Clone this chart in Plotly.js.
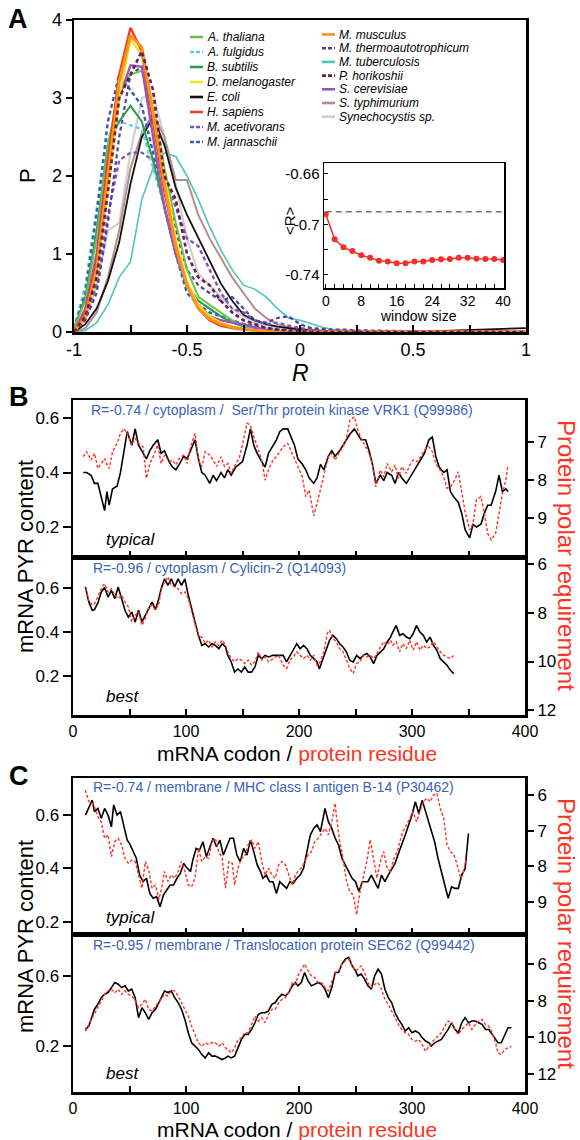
<!DOCTYPE html>
<html><head><meta charset="utf-8">
<script src="https://cdn.plot.ly/plotly-3.0.1.min.js"></script>
<style>html,body{margin:0;padding:0;background:#fff}</style>
</head><body><div id="chart" style="width:580px;height:1140px"></div>
<script>
// ---------------- DATA: panel A ----------------
const R_GRID = [-1,-0.95,-0.9,-0.85,-0.8,-0.75,-0.7,-0.65,-0.6,-0.55,-0.5,-0.45,-0.4,-0.35,-0.3,-0.25,-0.2,-0.15,-0.1,-0.05,0,0.05,0.1,0.15,0.2,0.25,0.3,0.5,1.0];
const P_ATHALIANA = [0.05,0.4,1.2,2.4,3.1,3.3,3.35,2.9,2.1,1.4,0.8,0.45,0.35,0.25,0.15,0.08,0.04,0.02,0.01,0,0,0,0,0,0,0,0,0,0];
const P_AFULGIDUS = [0.05,0.6,1.6,2.5,2.7,2.65,2.6,2.1,1.6,1.0,0.55,0.4,0.3,0.2,0.15,0.1,0.07,0.05,0.03,0.02,0.01,0,0,0,0,0,0,0,0];
const P_BSUBTILIS = [0.05,0.45,1.3,2.4,2.7,2.9,2.7,2.2,1.6,1.0,0.6,0.4,0.3,0.2,0.12,0.07,0.04,0.02,0.01,0,0,0,0,0,0,0,0,0,0];
const P_DMELANOGASTER = [0,0.2,0.7,1.8,3.0,3.75,3.55,2.9,2.0,1.2,0.65,0.35,0.2,0.12,0.07,0.04,0.02,0.01,0,0,0,0,0,0,0,0,0,0,0];
const P_ECOLI = [0,0.1,0.3,0.65,1.15,1.9,2.5,2.75,2.4,1.85,1.5,1.2,0.9,0.62,0.4,0.22,0.15,0.1,0.07,0.05,0.03,0.02,0.01,0,0,0,0,0,0.05];
const P_HSAPIENS = [0,0.25,0.9,2.2,3.3,3.9,3.6,2.7,1.8,1.1,0.6,0.3,0.15,0.08,0.05,0.03,0.02,0.01,0,0,0,0,0,0,0,0,0,0,0];
const P_MACETIVORANS = [0,0.2,0.6,1.5,2.2,2.3,2.3,2.2,2.0,1.6,1.2,1.1,0.8,0.5,0.3,0.25,0.15,0.1,0.12,0.08,0.05,0.03,0.02,0.01,0.01,0,0,0,0];
const P_MJANNASCHII = [0.05,0.5,1.5,2.7,3.3,3.1,2.9,2.3,1.6,1.0,0.5,0.35,0.25,0.2,0.15,0.1,0.08,0.05,0.03,0.02,0.01,0,0,0,0,0,0,0,0];
const P_MMUSCULUS = [0,0.2,0.8,2.0,3.2,3.8,3.65,2.8,1.9,1.1,0.6,0.3,0.17,0.1,0.06,0.04,0.02,0.01,0,0,0,0,0,0,0,0,0,0,0];
const P_MTHERMO = [0,0.15,0.5,1.4,2.5,3.3,3.4,2.7,1.9,1.3,0.8,0.6,0.5,0.4,0.45,0.3,0.15,0.12,0.18,0.2,0.1,0.05,0.04,0.03,0.03,0.02,0.02,0.01,0];
const P_MTUBERCULOSIS = [0,0.02,0.12,0.35,0.7,0.9,1.7,2.1,2.3,2.25,2.0,1.7,1.35,1.05,0.8,0.6,0.55,0.45,0.3,0.18,0.15,0.1,0.06,0.03,0.02,0.02,0.01,0,0];
const P_PHORIKOSHII = [0,0.2,0.7,1.8,3.0,3.3,3.6,3.1,2.0,1.7,1.0,0.7,0.6,0.4,0.25,0.15,0.1,0.05,0.03,0.02,0.01,0,0,0,0,0,0,0,0];
const P_SCEREVISIAE = [0,0.3,1.0,2.2,3.0,3.42,3.4,2.5,1.6,1.0,0.6,0.35,0.2,0.15,0.12,0.1,0.06,0.03,0.01,0,0,0,0,0,0,0,0,0,0];
const P_STYPHIMURIUM = [0,0.05,0.25,0.7,1.3,2.1,2.55,2.8,2.5,1.95,1.95,1.5,1.2,0.95,0.7,0.5,0.3,0.18,0.1,0.06,0.04,0.03,0.02,0.01,0,0,0,0,0];
const P_SYNECHOCYSTIS = [0,0.15,0.6,1.3,1.4,2.3,3.0,3.05,2.5,1.9,1.2,0.75,0.6,0.45,0.3,0.2,0.12,0.08,0.05,0.04,0.03,0.02,0.01,0,0,0,0,0,0];

const LEGEND_COL1 = ['A. thaliana','A. fulgidus','B. subtilis','D. melanogaster','E. coli','H. sapiens','M. acetivorans','M. jannaschii'];
const LEGEND_COL2 = ['M. musculus','M. thermoautotrophicum','M. tuberculosis','P. horikoshii','S. cerevisiae','S. typhimurium','Synechocystis sp.'];

// inset
const WINDOW_SIZE = [0,2,4,6,8,10,12,14,16,18,20,22,24,26,28,30,32,34,36,38,40];
const MEAN_R = [-0.6919,-0.7117,-0.7181,-0.7210,-0.7244,-0.7263,-0.7287,-0.7294,-0.7307,-0.7307,-0.7294,-0.7294,-0.7281,-0.7276,-0.7273,-0.7263,-0.7263,-0.7271,-0.7273,-0.7273,-0.7281];
const BASELINE_R = -0.690;
const INSET_XTICKS = [0,8,16,24,32,40];
const INSET_YTICKS = [-0.74,-0.7,-0.66];
const INSET_YTEXT = ['-0.74','-0.7','-0.66'];
const A_XTICKS = [-1,-0.5,0,0.5,1];
const A_XTEXT = ['-1','-0.5','0','0.5','1'];

// ---------------- DATA: panel B ----------------
const CODON_B_TYP = [9,12,16,19,22,25,28,30,32,35,39,42,45,48,52,55,58,62,65,68,71,75,78,81,85,88,91,94,98,101,104,108,111,114,117,121,124,127,131,134,137,140,144,147,150,154,157,160,163,167,170,173,177,180,183,186,190,193,196,199,203,206,209,213,216,219,222,226,229,232,236,239,242,245,249,252,255,259,262,265,268,272,275,278,282,285,288,291,295,298,301,305,308,311,315,318,321,324,328,331,334,337,341,344,347,351,354,357,361,364,367,370,374,377,380,383,385];
const PYR_B_TYP = [0.40,0.40,0.39,0.36,0.36,0.31,0.26,0.33,0.28,0.34,
0.35,0.40,0.47,0.55,0.50,0.56,0.50,0.47,0.45,0.48,
0.50,0.52,0.47,0.48,0.44,0.42,0.41,0.43,0.46,0.45,
0.48,0.52,0.45,0.40,0.39,0.36,0.39,0.37,0.40,0.38,
0.41,0.39,0.42,0.43,0.44,0.50,0.56,0.50,0.47,0.44,
0.42,0.47,0.50,0.52,0.55,0.56,0.56,0.53,0.50,0.45,
0.43,0.41,0.38,0.36,0.38,0.43,0.41,0.46,0.48,0.46,
0.48,0.50,0.52,0.54,0.56,0.54,0.52,0.52,0.48,0.43,
0.36,0.39,0.37,0.40,0.39,0.36,0.40,0.38,0.36,0.38,
0.40,0.43,0.45,0.47,0.52,0.53,0.46,0.42,0.40,0.41,
0.33,0.31,0.29,0.25,0.19,0.16,0.21,0.20,0.21,0.25,
0.28,0.28,0.33,0.39,0.33,0.34,0.33];
const PPR_B_TYP = [7.39,7.26,7.48,7.30,7.70,7.57,7.44,7.60,7.70,7.26,
7.04,6.78,6.65,6.78,7.08,6.91,7.04,7.13,7.96,7.57,
7.39,7.08,7.57,7.35,7.52,7.48,7.61,7.44,7.35,7.57,
7.13,6.78,7.48,7.65,7.26,7.35,7.48,7.65,7.39,7.65,
7.57,7.83,7.57,7.44,7.08,6.51,6.56,6.86,7.13,7.48,
8.01,7.74,7.48,7.39,7.26,7.13,7.04,7.26,7.48,7.65,
7.92,8.44,8.27,8.95,8.62,8.27,7.92,7.39,7.30,7.48,
7.26,7.13,6.91,6.43,6.34,6.69,6.91,7.13,7.30,7.57,
8.18,7.74,7.92,7.57,7.79,7.61,7.96,7.65,7.83,7.61,
7.48,7.52,7.35,7.22,7.13,7.26,7.57,7.70,7.92,8.22,
8.18,8.05,7.79,8.36,8.84,9.32,9.15,8.53,8.44,8.88,
9.41,9.58,9.41,8.88,8.36,8.01,7.61];

const CODON_B_BEST = [11,14,17,19,22,25,28,31,34,37,40,43,46,49,52,55,58,61,64,67,70,73,76,78,81,84,87,90,93,96,99,102,105,108,111,114,117,120,123,126,129,132,135,137,140,143,146,149,152,155,158,161,164,167,170,173,177,182,186,189,192,195,198,201,204,207,210,213,216,218,222,225,227,230,233,236,239,242,245,248,251,254,257,260,263,266,269,272,275,278,281,283,286,289,292,295,298,301,304,307,310,313,316,319,322,325,328,331,334,337];
const PYR_B_BEST = [0.603,0.534,0.497,0.50,0.53,0.58,0.60,0.557,0.587,0.55,
0.603,0.55,0.497,0.466,0.489,0.444,0.497,0.444,0.474,0.50,
0.534,0.50,0.55,0.595,0.64,0.61,0.64,0.603,0.64,0.61,
0.64,0.565,0.50,0.444,0.383,0.337,0.345,0.33,0.345,0.337,
0.322,0.345,0.33,0.292,0.262,0.216,0.23,0.216,0.239,0.216,
0.216,0.239,0.292,0.277,0.292,0.285,0.292,0.292,0.292,0.262,
0.292,0.322,0.345,0.322,0.337,0.322,0.292,0.277,0.262,0.23,
0.292,0.33,0.36,0.383,0.368,0.345,0.33,0.307,0.269,0.262,
0.292,0.277,0.292,0.30,0.285,0.254,0.292,0.307,0.322,0.353,
0.375,0.398,0.428,0.383,0.39,0.375,0.368,0.39,0.428,0.398,
0.383,0.353,0.375,0.337,0.315,0.277,0.262,0.247,0.224,0.209];
const PPR_B_BEST = [7.0,7.48,7.68,7.62,7.34,7.0,6.80,7.14,7.0,7.27,
7.41,7.27,7.55,7.75,8.37,8.10,7.96,8.51,8.23,7.75,
7.68,7.89,7.62,7.07,6.73,6.52,6.86,6.93,7.0,7.21,
7.14,7.41,7.96,8.51,8.99,8.99,9.26,9.12,9.40,9.19,
9.33,9.12,9.33,9.60,9.88,10.01,9.88,9.94,10.08,9.94,
10.15,10.01,9.60,9.94,9.81,10.01,9.88,9.74,10.15,10.29,
9.94,9.81,9.60,9.74,9.88,9.74,9.94,9.74,10.15,10.08,
9.60,8.85,8.71,9.05,9.19,9.47,9.60,9.94,10.29,10.49,
10.08,10.01,9.74,9.81,9.74,9.88,9.67,9.40,9.19,9.33,
9.12,9.33,9.19,9.60,9.26,9.47,9.12,9.53,9.19,9.53,
9.33,9.47,9.40,9.19,9.40,9.60,9.74,9.81,9.88,9.74];

// ---------------- DATA: panel C ----------------
const CODON_C_TYP = [11,14,17,19,22,25,28,31,34,36,39,42,45,48,50,53,56,59,62,65,68,71,74,77,80,83,86,89,92,95,98,100,104,106,109,112,115,118,121,124,127,130,133,136,139,142,145,148,151,154,157,160,163,166,168,171,174,177,180,183,186,189,192,195,198,201,204,207,210,213,216,219,222,223,226,229,232,235,238,241,244,247,250,253,256,258,261,264,267,270,273,276,279,282,285,288,291,294,297,300,303,306,309,312,315,317,320,323,326,329,332,335,338,341,344,347,350];
const PYR_C_TYP = [0.60,0.625,0.656,0.613,0.625,0.588,0.625,0.60,0.556,0.638,
0.60,0.613,0.563,0.506,0.494,0.463,0.438,0.375,0.35,0.363,
0.306,0.288,0.294,0.256,0.30,0.319,0.338,0.338,0.363,0.381,
0.419,0.406,0.388,0.431,0.475,0.469,0.50,0.444,0.475,0.513,
0.481,0.506,0.45,0.481,0.513,0.513,0.45,0.425,0.475,0.45,
0.506,0.463,0.413,0.388,0.363,0.375,0.35,0.35,0.306,0.35,
0.338,0.325,0.35,0.344,0.363,0.375,0.40,0.463,0.525,0.55,
0.563,0.538,0.60,0.625,0.575,0.55,0.513,0.488,0.438,0.413,
0.388,0.363,0.35,0.313,0.35,0.35,0.35,0.375,0.35,0.325,
0.375,0.35,0.375,0.40,0.419,0.456,0.488,0.525,0.563,0.60,
0.65,0.606,0.656,0.613,0.563,0.538,0.50,0.438,0.388,0.338,
0.288,0.331,0.325,0.325,0.375,0.40,0.531];
const CODON_C_TYP_RES = [11,14,17,19,22,25,28,31,34,37,40,43,46,49,52,55,58,61,64,67,70,73,76,79,81,84,87,90,93,96,99,102,105,108,111,114,117,120,123,126,129,132,135,138,141,143,146,149,152,155,158,161,164,167,170,173,176,179,182,185,188,191,194,197,199,202,205,208,211,214,217,220,223,226,229,232,233,236,239,242,245,248,251,254,257,260,263,266,269,272,275,278,281,284,287,290,292,295,298,301,304,307,310,313,316,319,322,325,328,331,334,337,340,343,345,348];
const PPR_C_TYP = [5.86,6.19,6.23,6.33,6.61,6.75,7.22,7.12,7.73,7.31,
7.22,7.40,7.78,7.92,7.83,7.87,8.25,8.62,7.87,8.11,
8.62,8.53,8.94,8.53,8.15,8.43,8.25,8.34,8.15,7.87,
8.15,8.53,8.58,8.34,7.50,7.87,7.73,7.78,7.31,7.22,
7.59,7.78,8.62,7.87,7.92,8.53,8.06,7.78,7.73,7.40,
7.26,7.50,7.31,7.87,8.25,8.06,8.25,8.34,7.96,7.87,
7.96,8.25,8.53,8.25,8.15,8.06,7.87,7.69,7.59,7.31,
7.22,7.08,6.94,7.12,6.75,6.23,6.56,7.31,7.78,8.43,
8.72,8.81,9.37,8.72,8.25,7.87,7.26,7.78,8.34,7.87,
7.59,8.06,8.15,7.78,7.59,7.22,7.03,6.84,6.65,6.47,
6.75,6.47,6.19,6.09,6.19,6.00,5.95,6.37,6.65,7.40,
7.59,7.68,7.96,8.34,8.25,7.78];

const CODON_C_BEST = [11,14,17,19,22,25,28,31,34,37,40,43,46,49,52,55,58,61,64,67,70,73,76,78,81,84,87,90,93,96,99,102,105,108,111,114,117,120,123,126,129,132,135,137,140,143,146,149,152,155,158,161,164,167,170,173,176,179,182,185,188,191,194,197,199,202,205,208,211,214,217,220,223,226,229,232,235,238,241,244,247,250,252,255,258,261,264,267,270,273,276,279,282,285,288,291,294,297,300,303,306,309,312,315,317,320,323,326,329,332,335,338,341,344,347,350,353,356,359,362,365,368,371,374,376,379,382,385,388];
const PYR_C_BEST = [0.295,0.314,0.371,0.41,0.438,0.476,0.495,0.505,0.533,0.562,
0.552,0.533,0.543,0.514,0.524,0.476,0.362,0.419,0.39,0.352,
0.39,0.41,0.448,0.476,0.514,0.505,0.514,0.476,0.448,0.41,
0.352,0.276,0.219,0.20,0.181,0.152,0.133,0.162,0.143,0.143,
0.133,0.124,0.133,0.143,0.133,0.143,0.19,0.238,0.267,0.267,
0.295,0.333,0.381,0.39,0.39,0.40,0.438,0.448,0.476,0.495,
0.486,0.505,0.543,0.562,0.543,0.562,0.619,0.571,0.543,0.552,
0.562,0.552,0.524,0.476,0.533,0.619,0.619,0.667,0.695,0.705,
0.657,0.629,0.60,0.61,0.581,0.543,0.524,0.60,0.638,0.61,
0.524,0.476,0.448,0.39,0.352,0.324,0.286,0.305,0.276,0.286,
0.276,0.248,0.229,0.219,0.20,0.219,0.229,0.238,0.267,0.295,
0.333,0.295,0.276,0.333,0.362,0.333,0.343,0.343,0.333,0.324,
0.295,0.295,0.267,0.238,0.219,0.219,0.267,0.305,0.305];
const PPR_C_BEST = [9.66,9.30,9.02,8.75,8.38,8.01,7.65,7.46,7.37,7.56,
7.37,7.65,7.46,7.65,7.74,8.01,8.38,8.20,7.92,8.47,
8.56,8.29,8.10,7.92,7.65,7.74,7.46,7.46,7.74,8.10,
8.47,8.84,9.39,9.84,10.30,10.49,10.30,10.39,10.30,10.30,
10.49,10.30,10.58,10.67,10.85,10.58,10.12,10.03,9.75,9.75,
9.30,8.84,9.11,8.93,9.20,8.75,8.47,8.47,8.10,7.92,
7.83,7.56,7.01,7.10,6.64,6.27,5.99,6.36,6.64,6.73,
7.01,7.01,7.28,7.46,7.01,6.46,6.36,5.99,5.82,5.72,
6.09,6.36,6.27,6.09,6.46,7.01,7.28,7.10,7.01,7.37,
7.92,8.20,8.56,8.93,9.30,9.57,9.75,9.84,10.12,10.21,
10.12,10.39,10.76,10.49,10.30,10.12,9.94,9.75,9.39,9.11,
9.20,9.57,9.84,9.57,9.39,9.20,9.57,9.30,9.11,9.02,
9.30,9.39,9.75,10.30,10.85,10.94,10.67,10.58,10.49];

const CODON_TICKS = [0,100,200,300,400];
const PYR_TICKS = [0.2,0.4,0.6];
const PYR_TICKS_CB = [0.2,0.6];
const PPR_TICKS_BT = [7,8,9];
const PPR_TICKS_EVEN = [6,8,10,12];
const PPR_TICKS_CT = [6,7,8,9];

const TITLES = {
  bTyp: 'R=-0.74 / cytoplasm /  Ser/Thr protein kinase VRK1 (Q99986)',
  bBest: 'R=-0.96 / cytoplasm / Cylicin-2 (Q14093)',
  cTyp: 'R=-0.74 / membrane / MHC class I antigen B-14 (P30462)',
  cBest: 'R=-0.95 / membrane / Translocation protein SEC62 (Q99442)'
};

// ---------------- STYLE ----------------
const W = 580, H = 1140;
const FONT = 'Liberation Sans, Arial, Helvetica, sans-serif';
const fx = p => p / W;
const fy = p => 1 - p / H;
const ydom = (top, bot) => [fy(bot), fy(top)];
const xdom = (l, r) => [fx(l), fx(r)];
const RED = '#ff3322';
const BLUE = '#3a63b8';

const STYLE = {
  'A. thaliana': {d: P_ATHALIANA, c: '#6cc24a', dash: 'solid', w: 2},
  'A. fulgidus': {d: P_AFULGIDUS, c: '#5fcbe6', dash: '4px,3px', w: 2.2},
  'B. subtilis': {d: P_BSUBTILIS, c: '#2f9a4c', dash: 'solid', w: 2},
  'D. melanogaster': {d: P_DMELANOGASTER, c: '#f2e41c', dash: 'solid', w: 2.2},
  'E. coli': {d: P_ECOLI, c: '#111111', dash: 'solid', w: 1.8},
  'H. sapiens': {d: P_HSAPIENS, c: '#f23c26', dash: 'solid', w: 2.4},
  'M. acetivorans': {d: P_MACETIVORANS, c: '#7d55b8', dash: '4px,3px', w: 2.4},
  'M. jannaschii': {d: P_MJANNASCHII, c: '#2d5fb5', dash: '4px,3px', w: 2.4},
  'M. musculus': {d: P_MMUSCULUS, c: '#f7951e', dash: 'solid', w: 3},
  'M. thermoautotrophicum': {d: P_MTHERMO, c: '#4e3fa0', dash: '4px,3px', w: 2.2},
  'M. tuberculosis': {d: P_MTUBERCULOSIS, c: '#4cc6bb', dash: 'solid', w: 1.6},
  'P. horikoshii': {d: P_PHORIKOSHII, c: '#6c1d4e', dash: '4px,3px', w: 2.6},
  'S. cerevisiae': {d: P_SCEREVISIAE, c: '#9a56b9', dash: 'solid', w: 2.4},
  'S. typhimurium': {d: P_STYPHIMURIUM, c: '#b48c8a', dash: 'solid', w: 2},
  'Synechocystis sp.': {d: P_SYNECHOCYSTIS, c: '#cfcfcf', dash: 'solid', w: 2.2}
};
const DRAW_ORDER = ['M. tuberculosis','Synechocystis sp.','S. typhimurium','E. coli','M. acetivorans','M. thermoautotrophicum','A. fulgidus','M. jannaschii','B. subtilis','A. thaliana','S. cerevisiae','D. melanogaster','H. sapiens','M. musculus','P. horikoshii'];

const traces = [];
DRAW_ORDER.forEach(name => {
  const s = STYLE[name];
  traces.push({x: R_GRID, y: s.d, type: 'scatter', mode: 'lines', name: name,
    line: {color: s.c, width: s.w, dash: s.dash}, xaxis: 'x', yaxis: 'y', hoverinfo: 'skip'});
});
// inset
traces.push({x: [WINDOW_SIZE[0], WINDOW_SIZE[WINDOW_SIZE.length-1]], y: [BASELINE_R, BASELINE_R], type: 'scatter', mode: 'lines',
  line: {color: '#777', width: 1.5, dash: '6px,4px'}, xaxis: 'x2', yaxis: 'y2', hoverinfo: 'skip'});
traces.push({x: WINDOW_SIZE, y: MEAN_R, type: 'scatter', mode: 'lines+markers',
  line: {color: '#f0302a', width: 1.5}, marker: {color: '#f0302a', size: 6}, xaxis: 'x2', yaxis: 'y2', hoverinfo: 'skip'});

function pair(codon, pyr, codonRes, ppr, xa, yl, yr) {
  traces.push({x: codon, y: pyr, type: 'scatter', mode: 'lines', line: {color: '#000', width: 1.6}, xaxis: xa, yaxis: yl, hoverinfo: 'skip'});
  traces.push({x: codonRes, y: ppr, type: 'scatter', mode: 'lines', line: {color: RED, width: 1.4, dash: '3px,2px'}, xaxis: xa, yaxis: yr, hoverinfo: 'skip'});
}
pair(CODON_B_TYP, PYR_B_TYP, CODON_B_TYP, PPR_B_TYP, 'x3', 'y3', 'y4');
pair(CODON_B_BEST, PYR_B_BEST, CODON_B_BEST, PPR_B_BEST, 'x4', 'y5', 'y6');
pair(CODON_C_TYP, PYR_C_TYP, CODON_C_TYP_RES, PPR_C_TYP, 'x5', 'y7', 'y8');
pair(CODON_C_BEST, PYR_C_BEST, CODON_C_BEST, PPR_C_BEST, 'x6', 'y9', 'y10');

// ---------------- AXES ----------------
const tf = s => ({family: FONT, size: s, color: '#000'});
function base(extra) {
  return Object.assign({showline: true, linecolor: '#000', linewidth: 2.5, mirror: true, showgrid: false, zeroline: false,
    ticks: 'outside', tickcolor: '#000', tickwidth: 2, ticklen: 7, tickfont: tf(17), fixedrange: true}, extra);
}
function codonAxis(anchor, labels) {
  return base({domain: xdom(73, 525), range: [0, 400], anchor: anchor, ticks: 'inside', ticklen: 6,
    tickvals: CODON_TICKS, showticklabels: labels, tickfont: tf(16),
    minor: {tickvals: [50,150,250,350], ticks: 'inside', ticklen: 6, tickwidth: 2, tickcolor: '#000', showgrid: false}});
}
function leftAxis(anchor, top, bot, range, ticks) {
  return base({domain: ydom(top, bot), range: range, anchor: anchor, tickvals: ticks, ticklen: 8});
}
function rightAxis(over, anchor, range, ticks) {
  return {overlaying: over, side: 'right', anchor: anchor, range: range, tickvals: ticks, showline: false, showgrid: false, zeroline: false,
    ticks: 'outside', tickcolor: '#000', tickwidth: 2, ticklen: 8, tickfont: tf(17), fixedrange: true};
}

const layout = {
  width: W, height: H, margin: {l: 0, r: 0, t: 0, b: 0}, showlegend: false,
  paper_bgcolor: '#fff', plot_bgcolor: '#fff', font: {family: FONT, color: '#000'},
  xaxis: base({domain: xdom(74, 526), range: [-1, 1], anchor: 'y', ticks: 'inside', tickvals: A_XTICKS, ticktext: A_XTEXT,
    tickfont: tf(18), minor: {tickvals: [-0.75,-0.25,0.25,0.75], ticks: 'inside', ticklen: 7, tickwidth: 2, tickcolor: '#000', showgrid: false}}),
  yaxis: base({domain: ydom(20, 332), range: [0, 4], anchor: 'x', tickvals: [0,1,2,3,4], tickfont: tf(18), ticklen: 6}),
  xaxis2: base({domain: xdom(324, 504), range: [-0.4, 40.2], anchor: 'y2', linewidth: 1.5, ticks: 'inside', ticklen: 4, tickwidth: 1,
    tickvals: INSET_XTICKS, tickfont: tf(14),
    minor: {dtick: 2, tick0: 0, ticks: 'inside', ticklen: 4, tickwidth: 1, tickcolor: '#000', showgrid: false}}),
  yaxis2: base({domain: ydom(163, 288), range: [-0.7503, -0.6513], anchor: 'x2', linewidth: 1.5, ticks: 'inside', ticklen: 4, tickwidth: 1,
    tickvals: INSET_YTICKS, ticktext: INSET_YTEXT, tickfont: tf(15),
    minor: {dtick: 0.02, tick0: -0.74, ticks: 'inside', ticklen: 4, tickwidth: 1, tickcolor: '#000', showgrid: false}}),
  xaxis3: codonAxis('y3', false),
  yaxis3: leftAxis('x3', 400, 557, [0.09, 0.666], PYR_TICKS),
  yaxis4: rightAxis('y3', 'x3', [10.03, 5.9], PPR_TICKS_BT),
  xaxis4: codonAxis('y5', true),
  yaxis5: leftAxis('x4', 557, 715, [0.021, 0.739], PYR_TICKS),
  yaxis6: rightAxis('y5', 'x4', [12.2, 5.7], PPR_TICKS_EVEN),
  xaxis5: codonAxis('y7', false),
  yaxis7: leftAxis('x5', 778, 934, [0.154, 0.739], PYR_TICKS),
  yaxis8: rightAxis('y7', 'x5', [9.91, 5.52], PPR_TICKS_CT),
  xaxis6: codonAxis('y9', true),
  yaxis9: leftAxis('x6', 934, 1092, [-0.061, 0.838], PYR_TICKS_CB),
  yaxis10: rightAxis('y9', 'x6', [12.99, 4.35], PPR_TICKS_EVEN),
  annotations: [], shapes: []
};

function ann(px, py, text, size, opts) {
  layout.annotations.push(Object.assign({xref: 'paper', yref: 'paper', x: fx(px), y: fy(py), text: text, showarrow: false,
    font: {family: FONT, size: size, color: '#000'}, xanchor: 'center', yanchor: 'middle', borderpad: 0}, opts || {}));
}
// panel letters
ann(18, 19, '<b>A</b>', 27);
ann(19, 397, '<b>B</b>', 27);
ann(19, 776, '<b>C</b>', 27);
// panel A titles
ann(27, 176, 'P', 22, {textangle: -90});
ann(300, 373, '<i>R</i>', 23);
// inset titles
ann(289, 221, '&lt;R&gt;', 15, {textangle: -90});
ann(419, 316, 'window size', 14);
// legend
LEGEND_COL1.forEach((name, i) => {
  const yy = 37 + 15 * i, s = STYLE[name];
  layout.shapes.push({type: 'line', xref: 'paper', yref: 'paper', x0: fx(190), x1: fx(203), y0: fy(yy), y1: fy(yy),
    line: {color: s.c, width: 2.6, dash: s.dash === 'solid' ? 'solid' : '4px,2px'}});
  ann(206, yy, '<i>' + name + '</i>', 12, {xanchor: 'left'});
});
LEGEND_COL2.forEach((name, i) => {
  const yy = 34.5 + 13.7 * i, s = STYLE[name];
  layout.shapes.push({type: 'line', xref: 'paper', yref: 'paper', x0: fx(322), x1: fx(335), y0: fy(yy), y1: fy(yy),
    line: {color: s.c, width: 2.6, dash: s.dash === 'solid' ? 'solid' : '4px,2px'}});
  ann(338, yy, '<i>' + name + '</i>', 12, {xanchor: 'left'});
});
// B / C annotations
ann(90, 410, TITLES.bTyp, 14, {xanchor: 'left', font: {family: FONT, size: 14, color: BLUE}});
ann(92, 568, TITLES.bBest, 14, {xanchor: 'left', font: {family: FONT, size: 14, color: BLUE}});
ann(92, 787, TITLES.cTyp, 14, {xanchor: 'left', font: {family: FONT, size: 14, color: BLUE}});
ann(92, 945, TITLES.cBest, 14, {xanchor: 'left', font: {family: FONT, size: 14, color: BLUE}});
ann(105, 540, '<i>typical</i>', 17, {xanchor: 'left'});
ann(105, 696, '<i>best</i>', 17, {xanchor: 'left'});
ann(105, 918, '<i>typical</i>', 17, {xanchor: 'left'});
ann(105, 1073, '<i>best</i>', 17, {xanchor: 'left'});
const XT = 'mRNA codon / <span style="color:' + RED + '">protein residue</span>';
ann(297, 753, XT, 21);
ann(297, 1129, XT, 21);
ann(25, 557, 'mRNA PYR content', 22, {textangle: -90});
ann(25, 937, 'mRNA PYR content', 22, {textangle: -90});
ann(567, 555, 'Protein polar requirement', 24, {textangle: 90, font: {family: FONT, size: 24, color: RED}});
ann(567, 933, 'Protein polar requirement', 24, {textangle: 90, font: {family: FONT, size: 24, color: RED}});

Plotly.newPlot('chart', traces, layout, {staticPlot: true, displayModeBar: false});
</script></body></html>
